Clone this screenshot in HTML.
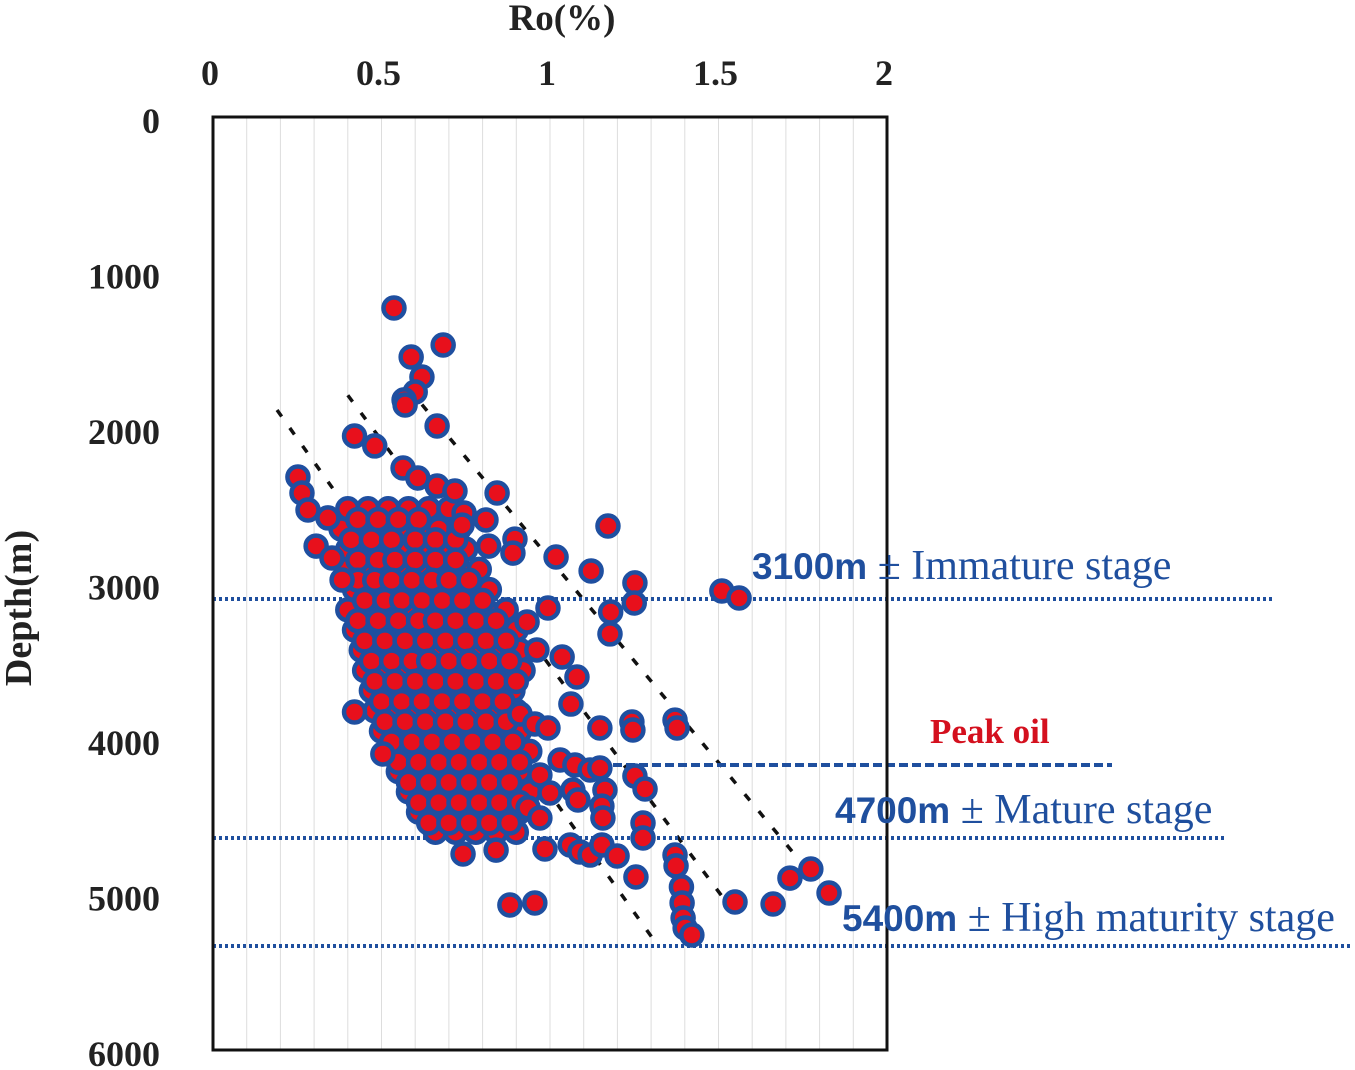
<!DOCTYPE html>
<html><head><meta charset="utf-8"><style>
html,body{margin:0;padding:0;background:#fff;width:1355px;height:1070px;overflow:hidden}
svg{display:block}
</style></head><body>
<svg id="chart" width="1355" height="1070" xmlns="http://www.w3.org/2000/svg">
<g id="grid"></g>
<g id="trends"></g>
<g id="stages"></g>
<g id="points"></g>
<rect x="213" y="117" width="674" height="933" fill="none" stroke="#111" stroke-width="3"/>
<g id="ticks" font-family="Liberation Serif, serif" font-weight="bold" font-size="36" fill="#222"></g>
<text x="562" y="30" text-anchor="middle" font-family="Liberation Serif, serif" font-weight="bold" font-size="37" fill="#222">Ro(%)</text>
<text transform="translate(31,608) rotate(-90)" text-anchor="middle" font-family="Liberation Serif, serif" font-weight="bold" font-size="38" fill="#222">Depth(m)</text>
<g font-size="37" fill="#1f4f9e">
<text x="752" y="579"><tspan font-family="Liberation Sans, sans-serif" font-weight="bold">3100m</tspan><tspan font-family="Liberation Serif, serif" font-size="42"> ± Immature stage</tspan></text>
<text x="930" y="743" font-family="Liberation Serif, serif" font-weight="bold" font-size="35" fill="#d4101e">Peak oil</text>
<text x="835" y="823"><tspan font-family="Liberation Sans, sans-serif" font-weight="bold">4700m</tspan><tspan font-family="Liberation Serif, serif" font-size="42"> ± Mature stage</tspan></text>
<text x="842" y="931"><tspan font-family="Liberation Sans, sans-serif" font-weight="bold">5400m</tspan><tspan font-family="Liberation Serif, serif" font-size="42"> ± High maturity stage</tspan></text>
</g>
</svg>
<script>
const xTicks=[0,0.5,1,1.5,2];
const xTickLabels=["0","0.5","1","1.5","2"];
const yTicks=[0,1000,2000,3000,4000,5000,6000];
const yTickLabels=["0","1000","2000","3000","4000","5000","6000"];
const outlierRo=[0.537,0.683,0.588,0.62,0.60,0.567,0.57,0.665,0.42,0.48,0.564,0.608,0.665,0.718,0.843,0.252,0.264,0.282,0.341,0.306,0.353,0.383,0.745,0.739,0.81,0.818,0.896,0.89,1.172,1.018,1.122,1.252,1.25,1.18,1.178,0.994,0.932,0.961,1.036,1.08,1.062,0.911,0.955,0.994,1.148,1.243,1.246,1.371,1.377,1.51,1.561,0.42,0.504,1.03,1.074,1.119,1.148,1.252,1.282,1.163,1.154,1.157,1.276,1.276,1.068,1.083,0.97,1.0,0.935,0.97,0.985,1.06,1.089,1.119,1.154,1.199,0.742,0.84,1.255,1.371,1.374,1.39,1.392,1.395,1.401,1.421,1.549,1.662,1.712,1.774,1.828,0.881,0.955];
const outlierDepth=[1209,1447,1524,1653,1749,1800,1833,1968,2032,2096,2238,2302,2354,2386,2399,2296,2399,2508,2559,2740,2817,2958,2527,2605,2572,2740,2695,2785,2611,2810,2900,2977,3106,3164,3305,3138,3228,3408,3453,3582,3756,3820,3884,3910,3910,3871,3923,3859,3910,3029,3074,3807,4077,4116,4148,4180,4167,4219,4302,4309,4412,4489,4521,4617,4309,4373,4212,4328,4424,4489,4688,4662,4707,4727,4662,4733,4720,4695,4868,4727,4797,4932,5035,5132,5196,5241,5029,5042,4875,4817,4971,5048,5035];
const coreDepths=[2500,2630,2760,2890,3020,3150,3280,3410,3540,3670,3800,3930,4060,4190,4320,4450,4580];
const coreRo=[
[0.40,0.46,0.52,0.58,0.64,0.70],
[0.38,0.44,0.50,0.55,0.61,0.67,0.73],
[0.40,0.46,0.52,0.57,0.63,0.69,0.75],
[0.40,0.45,0.51,0.56,0.62,0.67,0.73,0.79],
[0.42,0.48,0.54,0.59,0.65,0.71,0.77,0.82],
[0.40,0.46,0.52,0.58,0.63,0.69,0.75,0.81,0.87],
[0.42,0.48,0.54,0.60,0.66,0.72,0.78,0.84,0.90],
[0.44,0.50,0.56,0.61,0.67,0.73,0.79,0.85,0.91],
[0.45,0.51,0.57,0.63,0.69,0.75,0.81,0.87,0.92],
[0.47,0.53,0.59,0.65,0.71,0.77,0.83,0.89],
[0.48,0.54,0.60,0.66,0.72,0.78,0.84,0.90],
[0.50,0.56,0.62,0.68,0.74,0.80,0.86,0.91],
[0.52,0.58,0.64,0.70,0.76,0.82,0.88,0.94],
[0.55,0.61,0.67,0.73,0.79,0.85,0.91],
[0.58,0.64,0.70,0.76,0.82,0.88,0.94],
[0.61,0.67,0.73,0.79,0.85,0.91],
[0.66,0.72,0.78,0.84,0.90]];
const midDepths=[2570,2700,2830,2960,3090,3220,3350,3480,3610,3740,3870,4000,4130,4260,4390,4520];
const midRo=[
[0.43,0.49,0.55,0.61],
[0.41,0.47,0.53,0.60,0.66,0.72],
[0.43,0.49,0.54,0.60,0.66,0.72],
[0.43,0.48,0.53,0.59,0.65,0.70,0.76],
[0.45,0.51,0.56,0.62,0.68,0.74,0.80],
[0.43,0.49,0.55,0.61,0.66,0.72,0.78,0.84],
[0.45,0.51,0.57,0.63,0.69,0.75,0.81,0.87],
[0.47,0.53,0.59,0.64,0.70,0.76,0.82,0.88],
[0.48,0.54,0.60,0.66,0.72,0.78,0.84,0.90],
[0.50,0.56,0.62,0.68,0.74,0.80,0.86],
[0.51,0.57,0.63,0.69,0.75,0.81,0.87],
[0.53,0.59,0.65,0.71,0.77,0.83,0.89],
[0.55,0.61,0.67,0.73,0.79,0.85,0.91],
[0.58,0.64,0.70,0.76,0.82,0.88],
[0.61,0.67,0.73,0.79,0.85,0.91],
[0.64,0.70,0.76,0.82,0.88]];
const trendStartRo=[0.19,0.40,0.62];
const trendStartDepth=[1865,1770,1830];
const trendEndRo=[1.32,1.52,1.74];
const trendEndDepth=[5310,5020,4760];

const NS="http://www.w3.org/2000/svg";
const X0=213,X1=887,Y0=120,Y1=1053;
function xs(v){return X0+(X1-X0)*v/2;}
function ys(d){return Y0+(Y1-Y0)*d/6000;}
function mk(tag,attrs,parent){const e=document.createElementNS(NS,tag);for(const k in attrs)e.setAttribute(k,attrs[k]);parent.appendChild(e);return e;}
const grid=document.getElementById('grid');
for(let i=1;i<20;i++){const e=mk('line',{x1:xs(i/10),x2:xs(i/10),y1:117,y2:1050,stroke:'#ddd','stroke-width':1},grid);

}
const ticks=document.getElementById('ticks');
xTicks.forEach((v,i)=>{const t=mk('text',{x:xs(v)-3,y:85,'text-anchor':'middle'},ticks);t.textContent=xTickLabels[i];

});
yTicks.forEach((v,i)=>{const t=mk('text',{x:160,y:ys(v)+13,'text-anchor':'end'},ticks);t.textContent=yTickLabels[i];

});
const trends=document.getElementById('trends');
trendStartRo.forEach((v,i)=>{const l=mk('line',{x1:xs(v),y1:ys(trendStartDepth[i]),x2:xs(trendEndRo[i]),y2:ys(trendEndDepth[i]),stroke:'#111','stroke-width':3.5,'stroke-dasharray':'8 14'},trends);

});
const stages=document.getElementById('stages');
[[213,1275,599,'3 3'],[600,1112,765,'9 4'],[213,1225,838,'3 3'],[213,1352,946,'3 3']].forEach(s=>{const l=mk('line',{x1:s[0],x2:s[1],y1:s[2],y2:s[2],stroke:'#1f4f9e','stroke-width':4,'stroke-dasharray':s[3]},stages);

});
const pts=document.getElementById('points');
function dot(r,d){const c=mk('circle',{cx:xs(r),cy:ys(d),r:10.5,fill:'#e8101c',stroke:'#1f4fa0','stroke-width':4.5},pts);

}
coreDepths.forEach((d,i)=>coreRo[i].forEach(r=>dot(r,d)));
midDepths.forEach((d,i)=>midRo[i].forEach(r=>dot(r,d)));
outlierRo.forEach((r,i)=>dot(r,outlierDepth[i]));
</script>
</body></html>
